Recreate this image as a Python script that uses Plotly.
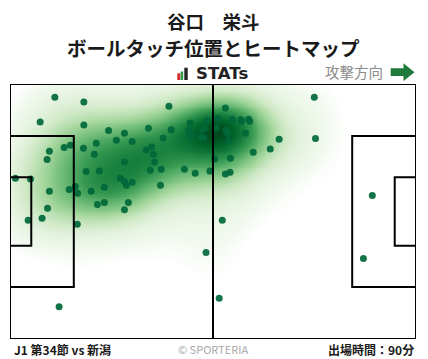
import numpy as np
import plotly.graph_objects as go

# Ball touch positions (pitch metres, 105 x 68, attacking left -> right)
touch_x = [11.6, 19.1, 7.8, 19.1, 41.1, 25.5, 29.6, 35.8, 27.5, 31.6, 22.3, 19.0, 21.8, 14.0, 15.6,
           10.2, 9.6, 35.2, 36.6, 37.1, 29.6, 37.4, 36.3, 39.1, 39.6, 41.7, 45.1, 47.9, 51.7, 19.7,
           23.1, 28.5, 29.6, 30.1, 31.6, 38.9, 24.4, 21.0, 17.5, 16.9, 15.3, 10.2, 1.4, 5.3, 9.7,
           22.6, 24.4, 30.6, 29.6, 46.6, 46.2, 46.9, 49.7, 50.4, 49.4, 50.1, 50.9, 53.3, 53.7, 55.7,
           57.5, 59.7, 59.9, 61.7, 62.0, 55.9, 56.3, 56.6, 60.9, 62.9, 57.0, 52.9, 55.7, 56.9, 78.7,
           69.6, 79.0, 67.3, 93.7, 8.3, 4.7, 17.4, 50.7, 12.7, 54.9, 54.1, 91.4]
touch_y = [64.5, 63.2, 57.9, 57.1, 62.1, 55.6, 54.9, 56.2, 53.0, 52.7, 52.2, 50.9, 49.3, 51.1, 51.7,
           50.1, 47.9, 50.4, 51.2, 49.3, 47.2, 47.2, 45.0, 45.3, 53.6, 55.8, 45.3, 44.2, 44.8, 44.7,
           44.8, 42.9, 42.1, 41.0, 41.8, 41.0, 40.5, 39.4, 38.9, 40.7, 39.9, 39.4, 42.9, 42.7, 34.9,
           35.9, 36.4, 36.4, 34.5, 57.6, 55.7, 54.4, 55.9, 56.2, 53.8, 53.7, 58.2, 56.3, 58.9, 61.6,
           58.6, 58.5, 58.0, 58.6, 58.1, 55.7, 54.8, 52.9, 54.9, 49.8, 48.2, 48.0, 44.0, 44.5, 64.5,
           53.3, 53.5, 50.7, 38.3, 32.2, 31.7, 30.6, 23.1, 8.6, 31.7, 10.9, 21.5]

player_name = "谷口　栄斗"
chart_title = "ボールタッチ位置とヒートマップ"
match_label = "J1 第34節 vs 新潟"
minutes_label = "出場時間：90分"

PL, PW = 105.0, 68.0

# kernel density of the touches (narrow kernel + wide faint kernel for the tails)
gx = np.linspace(0, PL, 211)
gy = np.linspace(0, PW, 137)
GX, GY = np.meshgrid(gx, gy)
tx = np.array(touch_x)
ty = np.array(touch_y)
Z = np.zeros_like(GX)
W = np.zeros_like(GX)
for a, b in zip(tx, ty):
    Z += np.exp(-((GX - a) ** 2 / (2 * 7.0 ** 2) + (GY - b) ** 2 / (2 * 5.8 ** 2)))
    W += np.exp(-((GX - a) ** 2 / (2 * 14.0 ** 2) + (GY - b) ** 2 / (2 * 12.0 ** 2)))
Z = 0.84 * (Z / Z.max()) ** 1.4 + 0.16 * (W / W.max())
Z = Z / Z.max()

heat_scale = [
    [0.0, '#ffffff'],
    [0.03, '#ffffff'],
    [0.06, '#f2f9ef'],
    [0.12, '#e6f3e0'],
    [0.22, '#cfe9c6'],
    [0.35, '#a2d59b'],
    [0.50, '#68b874'],
    [0.64, '#359851'],
    [0.78, '#127a3a'],
    [0.90, '#00622a'],
    [1.0, '#004a1e'],
]

fig = go.Figure()
fig.add_trace(go.Heatmap(
    x=gx, y=gy, z=Z, colorscale=heat_scale, zmin=0, zmax=1, zsmooth='best',
    showscale=False, hoverinfo='skip'))
fig.add_trace(go.Scatter(
    x=touch_x, y=touch_y, mode='markers',
    marker=dict(size=7, color='#00683a', opacity=0.92, line=dict(width=0)),
    hoverinfo='skip', showlegend=False))

line = dict(color='black', width=2)
shapes = [
    dict(type='rect', x0=0, y0=0, x1=PL, y1=PW),
    dict(type='line', x0=PL / 2, y0=0, x1=PL / 2, y1=PW),
    dict(type='rect', x0=0, y0=13.84, x1=16.5, y1=54.16),
    dict(type='rect', x0=0, y0=24.84, x1=5.5, y1=43.16),
    dict(type='rect', x0=PL - 16.5, y0=13.84, x1=PL, y1=54.16),
    dict(type='rect', x0=PL - 5.5, y0=24.84, x1=PL, y1=43.16),
]
for s in shapes:
    s.update(xref='x', yref='y', line=line, layer='above', fillcolor='rgba(0,0,0,0)')

# paper-coordinate helpers (plot area: 406 x 255 px starting at 10,84)
def px(xp):
    return (xp - 10) / 406.0

def py(yp):
    return (339 - yp) / 255.0

# STATs icon bars
for (x0, x1, y0, c) in [(177.3, 180.2, 73.3, '#d62b2b'), (180.6, 183.2, 71.5, '#2e9a4a'), (184.3, 187.7, 67.7, '#222222')]:
    shapes.append(dict(type='rect', xref='paper', yref='paper', x0=px(x0), x1=px(x1), y0=py(80), y1=py(y0),
                       fillcolor=c, line=dict(width=0), layer='above'))
# direction arrow
arrow_path = "M {a},{b} L {c},{b} L {c},{d} L {e},{f} L {c},{g} L {c},{h} L {a},{h} Z".format(
    a=px(390.7), b=py(68.3), c=px(403.5), d=py(63.3), e=px(414.5), f=py(72.2), g=py(81.0), h=py(76.0))
shapes.append(dict(type='path', xref='paper', yref='paper', path=arrow_path,
                   fillcolor='#1f7a3c', line=dict(width=0), layer='above'))

font_jp = "Noto Sans CJK JP"
annotations = [
    dict(text="<b>%s</b>" % player_name, x=0.5, y=py(21.3), xref='paper', yref='paper', showarrow=False,
         font=dict(family=font_jp, size=18.5, color='#1a1a1a'), xanchor='center', yanchor='middle'),
    dict(text="<b>%s</b>" % chart_title, x=0.5, y=py(47), xref='paper', yref='paper', showarrow=False,
         font=dict(family=font_jp, size=19.5, color='#1a1a1a'), xanchor='center', yanchor='middle'),
    dict(text="<b>STATs</b>", x=px(194), y=py(74), xref='paper', yref='paper', showarrow=False,
         font=dict(family="DejaVu Sans", size=16.5, color='#222222'), xanchor='left', yanchor='middle'),
    dict(text="攻撃方向", x=px(385), y=py(71.5), xref='paper', yref='paper', showarrow=False,
         font=dict(family=font_jp, size=14.5, color='#8a8a8a'), xanchor='right', yanchor='middle'),
    dict(text="<b>%s</b>" % match_label, x=px(12), y=py(349), xref='paper', yref='paper', showarrow=False,
         font=dict(family=font_jp, size=12, color='#1a1a1a'), xanchor='left', yanchor='middle'),
    dict(text="© SPORTERIA", x=px(213), y=py(348.5), xref='paper', yref='paper', showarrow=False,
         font=dict(family=font_jp, size=11, color='#a8a8a8'), xanchor='center', yanchor='middle'),
    dict(text="<b>%s</b>" % minutes_label, x=px(416), y=py(349), xref='paper', yref='paper', showarrow=False,
         font=dict(family=font_jp, size=12, color='#1a1a1a'), xanchor='right', yanchor='middle'),
]

ax = dict(range=[0, PL], showgrid=False, zeroline=False, showticklabels=False, ticks='', showline=False)
ay = dict(range=[0, PW], showgrid=False, zeroline=False, showticklabels=False, ticks='', showline=False)
fig.update_layout(
    width=428, height=359,
    margin=dict(l=10, r=12, t=84, b=20),
    paper_bgcolor='white', plot_bgcolor='white',
    xaxis=ax, yaxis=ay,
    shapes=shapes, annotations=annotations,
    showlegend=False,
)
fig.write_html("out.html")
